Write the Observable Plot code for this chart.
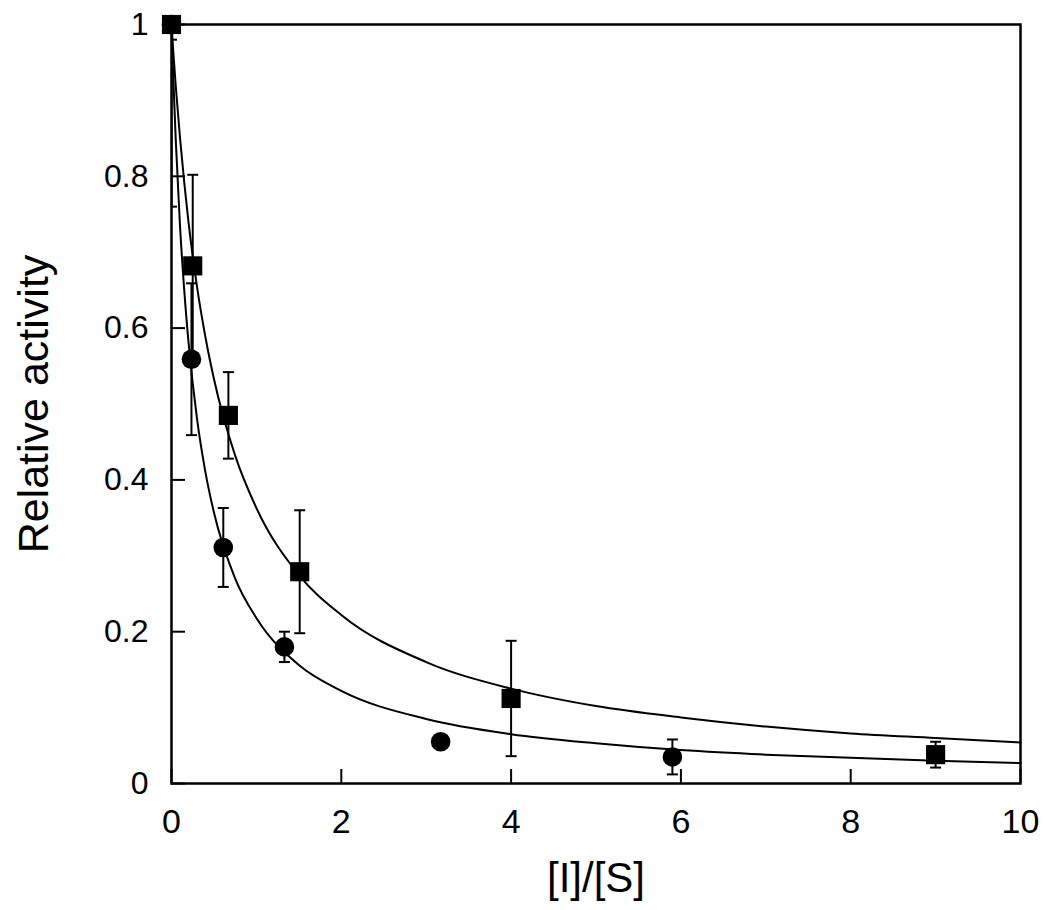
<!DOCTYPE html>
<html>
<head>
<meta charset="utf-8">
<script src="https://cdn.jsdelivr.net/npm/d3@7"></script>
<script src="https://cdn.jsdelivr.net/npm/@observablehq/plot@0.6"></script>
<style>
  html, body { margin: 0; padding: 0; background: #fff; }
</style>
</head>
<body>
<div id="chart"></div>
<script>
// Measured points (squares and circles) with error bars
const squareX   = [0, 0.25, 0.67, 1.51, 4.0, 9.0];
const squareY   = [1.0, 0.682, 0.485, 0.279, 0.112, 0.038];
const squareErr = [0.02, 0.12, 0.057, 0.081, 0.076, 0.017];

const circleX   = [0, 0.235, 0.61, 1.33, 3.17, 5.9];
const circleY   = [1.0, 0.559, 0.311, 0.180, 0.055, 0.035];
const circleErr = [0.24, 0.10, 0.052, 0.02, 0, 0.023];

// Fitted curves
const curveX       = [0, 0.02, 0.05, 0.1, 0.15, 0.2, 0.3, 0.4, 0.5, 0.75, 1, 1.5, 2, 3, 4, 5, 6, 7, 8, 9, 10];
const squareCurveY = [1, 0.966, 0.919, 0.851, 0.792, 0.740, 0.655, 0.588, 0.533, 0.432, 0.363, 0.275, 0.222, 0.160, 0.125, 0.102, 0.087, 0.075, 0.066, 0.060, 0.054];
const circleCurveY = [1, 0.933, 0.848, 0.735, 0.650, 0.582, 0.481, 0.410, 0.357, 0.270, 0.218, 0.156, 0.122, 0.085, 0.065, 0.053, 0.044, 0.038, 0.034, 0.030, 0.027];

const xTicks = [0, 2, 4, 6, 8, 10];
const xTickLabels = ["0", "2", "4", "6", "8", "10"];
const yTicks = [0, 0.2, 0.4, 0.6, 0.8, 1];
const yTickLabels = ["0", "0.2", "0.4", "0.6", "0.8", "1"];

const xLabel = "[I]/[S]";
const yLabel = "Relative activity";

const squares = squareX.map((x, i) => ({x, y: squareY[i], lo: squareY[i] - squareErr[i], hi: squareY[i] + squareErr[i], e: squareErr[i]}));
const circles = circleX.map((x, i) => ({x, y: circleY[i], lo: circleY[i] - circleErr[i], hi: circleY[i] + circleErr[i], e: circleErr[i]}));
const bars = [...squares, ...circles].filter(d => d.e > 0);
const caps = bars.flatMap(d => [{x: d.x, y: d.lo}, {x: d.x, y: d.hi}]);
const squareCurve = curveX.map((x, i) => ({x, y: squareCurveY[i]}));
const circleCurve = curveX.map((x, i) => ({x, y: circleCurveY[i]}));

const hline = {
  draw(context, size) {
    const w = Math.sqrt(size) / 2;
    context.moveTo(-w, 0);
    context.lineTo(w, 0);
  }
};

const font = "'Liberation Sans', Arial, Helvetica, sans-serif";

const chart = Plot.plot({
  width: 1050,
  height: 910,
  marginLeft: 171,
  marginRight: 30,
  marginTop: 24,
  marginBottom: 127,
  style: {fontFamily: font, background: "#fff", color: "#000", overflow: "visible"},
  x: {domain: [0, 10]},
  y: {domain: [0, 1]},
  marks: [
    // error bars
    Plot.ruleX(bars, {x: "x", y1: "lo", y2: "hi", stroke: "#000", strokeWidth: 2, clip: true}),
    Plot.dot(caps, {x: "x", y: "y", symbol: hline, r: 6.2, stroke: "#000", strokeWidth: 2, fill: "none", clip: true}),
    // fitted curves
    Plot.line(squareCurve, {x: "x", y: "y", curve: "monotone-x", stroke: "#000", strokeWidth: 2}),
    Plot.line(circleCurve, {x: "x", y: "y", curve: "monotone-x", stroke: "#000", strokeWidth: 2}),
    // points
    Plot.dot(circles, {x: "x", y: "y", symbol: "circle", r: 9.8, fill: "#000", stroke: "none"}),
    Plot.dot(squares, {x: "x", y: "y", symbol: "square", r: 10.8, fill: "#000", stroke: "none"}),
    // frame and inward ticks
    Plot.frame({stroke: "#000", strokeWidth: 2.5}),
    Plot.axisX({ticks: xTicks, tickSize: -14, tickFormat: () => "", stroke: "#000", strokeWidth: 2, label: null}),
    Plot.axisY({ticks: yTicks, tickSize: -14, tickFormat: () => "", stroke: "#000", strokeWidth: 2, label: null}),
    Plot.axisX({ticks: xTicks, tickSize: 0, tickPadding: 25, fontSize: 34, fill: "#000",
      tickFormat: d => xTickLabels[xTicks.indexOf(d)], label: null}),
    Plot.axisY({ticks: yTicks, tickSize: 0, tickPadding: 23, fontSize: 32, fill: "#000",
      tickFormat: d => yTickLabels[yTicks.indexOf(d)], label: null}),
    // axis titles
    Plot.text([xLabel], {frameAnchor: "bottom", dy: 95, fontSize: 42, fill: "#000", lineAnchor: "middle", textAnchor: "middle"}),
    Plot.text([yLabel], {frameAnchor: "left", dx: -137, rotate: -90, fontSize: 43, fill: "#000", lineAnchor: "middle", textAnchor: "middle"})
  ]
});

document.getElementById("chart").appendChild(chart);
</script>
</body>
</html>
